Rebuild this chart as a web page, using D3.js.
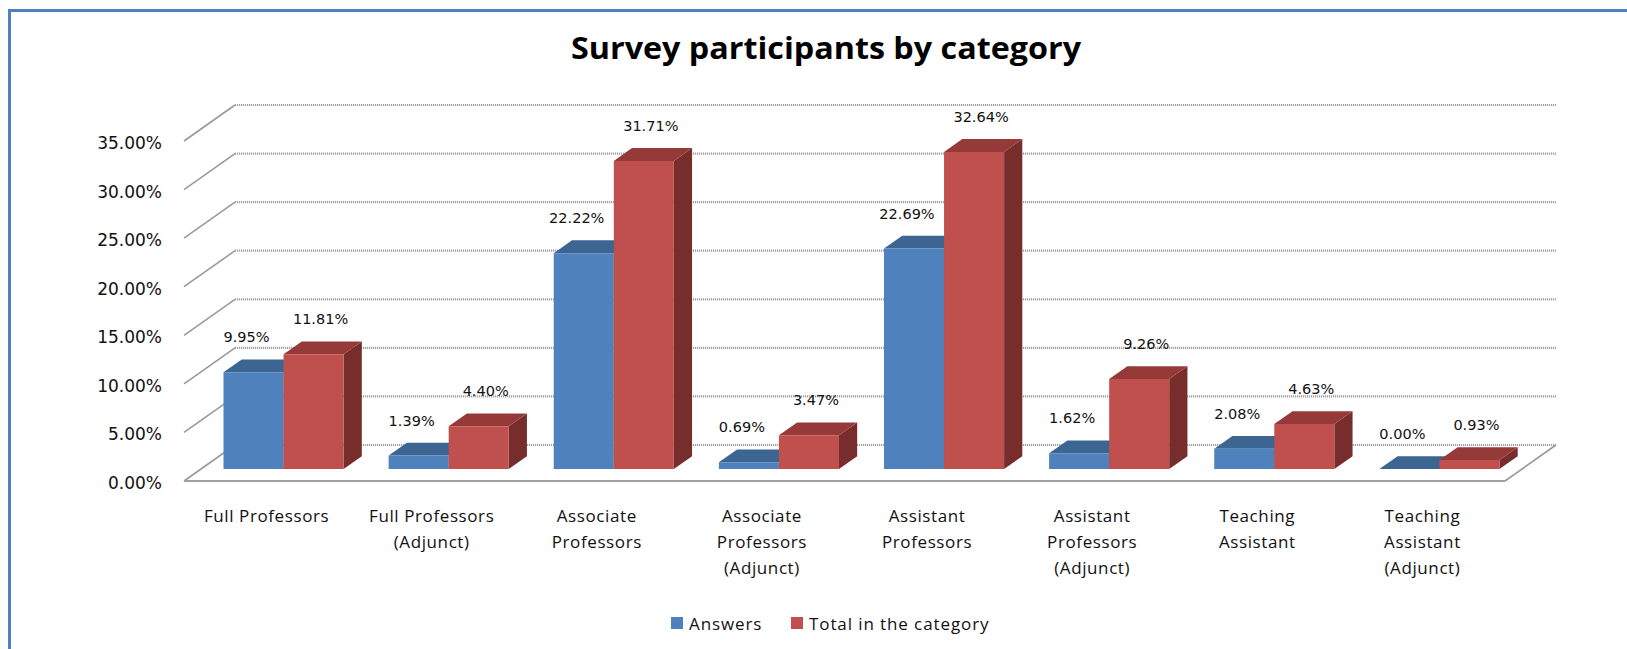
<!DOCTYPE html>
<html><head><meta charset="utf-8">
<script src="https://cdn.jsdelivr.net/npm/d3@7"></script>
<style>
html,body{margin:0;padding:0;background:#fff;overflow:hidden;}
svg{display:block;}
</style></head>
<body>
<svg id="chart" width="1627" height="649"></svg>
<script>
const categories = [
  "Full Professors",
  "Full Professors\n(Adjunct)",
  "Associate\nProfessors",
  "Associate\nProfessors\n(Adjunct)",
  "Assistant\nProfessors",
  "Assistant\nProfessors\n(Adjunct)",
  "Teaching\nAssistant",
  "Teaching\nAssistant\n(Adjunct)"
];
const seriesNames = ["Answers", "Total in the category"];
const answers = [9.95, 1.39, 22.22, 0.69, 22.69, 1.62, 2.08, 0.00];
const totals  = [11.81, 4.40, 31.71, 3.47, 32.64, 9.26, 4.63, 0.93];
const yTicks = [0, 5, 10, 15, 20, 25, 30, 35];
const titleText = "Survey participants by category";

const colors = {
  "Answers": {front:"#4F81BD", top:"#3C6592", side:"#2F5078"},
  "Total in the category": {front:"#C0504D", top:"#953A38", side:"#772D2B"}
};

const svg = d3.select("#chart");

// border
svg.append("rect").attr("x",9.5).attr("y",10.5).attr("width",1700).attr("height",700)
  .attr("fill","none").attr("stroke","#4F81BD").attr("stroke-width",3);

// title
svg.append("text").attr("x",826).attr("y",59).attr("text-anchor","middle")
  .attr("font-family","'Open Sans', sans-serif").attr("font-weight","bold")
  .attr("font-size",29.5).attr("textLength",510).attr("lengthAdjust","spacingAndGlyphs")
  .attr("fill","#000").text(titleText);

// 3D oblique geometry
const x0 = 184, x1 = 1505;
const depth = [51, -36];
const y = d3.scaleLinear().domain([0,35]).range([481,141]);
const x = d3.scaleBand().domain(categories).range([x0,x1]).padding(0);
const xs = d3.scaleBand().domain(seriesNames).range([0, x.bandwidth()]).paddingInner(0).paddingOuter(0.375);
const P = (px, v, t) => [px + depth[0]*t, y(v) + depth[1]*t];

const grid = svg.append("g");
yTicks.forEach(v => {
  grid.append("path").attr("d", d3.line()([P(x0, v, 0), P(x0, v, 1)]))
    .attr("stroke","#9a9a9a").attr("stroke-width",1.6).attr("fill","none");
  grid.append("path").attr("d", d3.line()([P(x0, v, 1), P(x1, v, 1)]))
    .attr("stroke","#a4a4a4").attr("stroke-width",2.2).attr("stroke-dasharray","1.2,0.8").attr("fill","none");
});
// floor front edge + right edge
grid.append("path").attr("d", d3.line()([P(x0,0,0), P(x1,0,0)]))
  .attr("stroke","#a0a0a0").attr("stroke-width",2).attr("fill","none");
grid.append("path").attr("d", d3.line()([P(x1,0,0), P(x1,0,1)]))
  .attr("stroke","#9a9a9a").attr("stroke-width",1.6).attr("fill","none");

// y tick labels
svg.append("g").selectAll("text").data(yTicks).join("text")
  .attr("x",162).attr("y",v => y(v)+8).attr("text-anchor","end")
  .attr("font-family","'DejaVu Sans', sans-serif").attr("font-size",17).attr("fill","#111")
  .text(v => d3.format(".2f")(v) + "%");

// bars
const tf = 0.333, tb = 0.69;
const data = [];
categories.forEach((c,i) => {
  data.push({cat:c, s:seriesNames[0], v:answers[i]});
  data.push({cat:c, s:seriesNames[1], v:totals[i]});
});
const poly = pts => "M" + pts.map(p => p.join(",")).join("L") + "Z";
const bars = svg.append("g");
data.forEach(d => {
  const xa = x(d.cat) + xs(d.s), xb = xa + xs.bandwidth();
  const col = colors[d.s];
  const g = bars.append("g");
  g.append("path").attr("d", poly([P(xb,0,tf),P(xb,0,tb),P(xb,d.v,tb),P(xb,d.v,tf)])).attr("fill",col.side);
  g.append("path").attr("d", poly([P(xa,d.v,tf),P(xb,d.v,tf),P(xb,d.v,tb),P(xa,d.v,tb)])).attr("fill",col.top);
  g.append("path").attr("d", poly([P(xa,0,tf),P(xb,0,tf),P(xb,d.v,tf),P(xa,d.v,tf)])).attr("fill",col.front);
});

// data labels
const labelShift = {"Answers": -7, "Total in the category": 7};
svg.append("g").selectAll("text").data(data).join("text")
  .attr("x", d => P(x(d.cat) + xs(d.s) + xs.bandwidth()/2, d.v, tf)[0] + labelShift[d.s])
  .attr("y", d => P(0, d.v, tf)[1] - 30)
  .attr("text-anchor","middle")
  .attr("font-family","'DejaVu Sans', sans-serif").attr("font-size",14.5).attr("fill","#111")
  .text(d => d3.format(".2f")(d.v) + "%");

// category labels
const catG = svg.append("g");
categories.forEach(c => {
  const t = catG.append("text").attr("text-anchor","middle")
    .attr("font-family","'Open Sans', sans-serif").attr("font-size",17)
    .attr("letter-spacing",0.6).attr("fill","#111");
  c.split("\n").forEach((line,k) => {
    t.append("tspan").attr("x", x(c) + x.bandwidth()/2).attr("y", 522 + k*26).text(line);
  });
});

// legend
const legendX = [671, 791];
const leg = svg.append("g");
seriesNames.forEach((s,i) => {
  leg.append("rect").attr("x",legendX[i]).attr("y",617).attr("width",12).attr("height",12).attr("fill",colors[s].front);
  leg.append("text").attr("x",legendX[i]+18).attr("y",630)
    .attr("font-family","'Open Sans', sans-serif").attr("font-size",17)
    .attr("letter-spacing",0.9).attr("fill","#111").text(s);
});
</script>
</body></html>
